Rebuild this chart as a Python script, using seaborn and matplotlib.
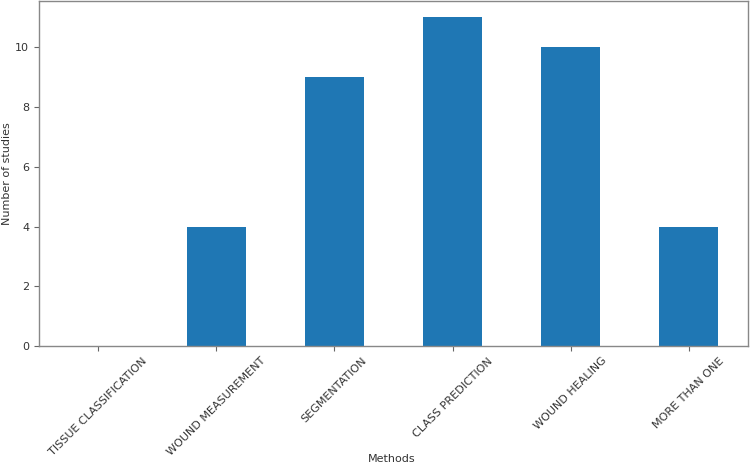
import matplotlib
matplotlib.use("Agg")
import matplotlib.pyplot as plt
import seaborn as sns
import pandas as pd

methods = ["TISSUE CLASSIFICATION", "WOUND MEASUREMENT", "SEGMENTATION",
           "CLASS PREDICTION", "WOUND HEALING", "MORE THAN ONE"]
studies = [0, 4, 9, 11, 10, 4]

df = pd.DataFrame({"Methods": methods, "Number of studies": studies})

sns.set_style("ticks")
plt.rcParams['font.family'] = ['DejaVu Sans']

fig = plt.figure(figsize=(7.51, 4.65), dpi=100)
ax = fig.add_axes([39/751, 1 - 346/465, (748-39)/751, (346-1)/465])
sns.barplot(data=df, x="Methods", y="Number of studies", color="#1f77b4",
            saturation=1, width=0.5, linewidth=0, ax=ax)
ax.set_xlim(-0.5, 5.5)
ax.set_ylim(0, 11.55)
ax.set_yticks([0, 2, 4, 6, 8, 10])
tc = "#333333"
ax.tick_params(axis="both", labelsize=8, colors="#666666", labelcolor=tc,
               length=3.5, width=0.8)
for lab in ax.get_xticklabels():
    lab.set_rotation(45)
    lab.set_ha("center")
ax.set_xlabel("Methods", fontsize=8, color=tc)
ax.set_ylabel("Number of studies", fontsize=8, color=tc)
ax.xaxis.set_label_coords((392-39)/709, (346-459)/345)
ax.yaxis.set_label_coords((7-39)/709, 0.5)
ax.xaxis.label.set_va("center")
ax.yaxis.label.set_va("center")
for s in ax.spines.values():
    s.set_visible(True)
    s.set_color("#888888")
    s.set_linewidth(1.0)
fig.savefig("out.png", dpi=100)
